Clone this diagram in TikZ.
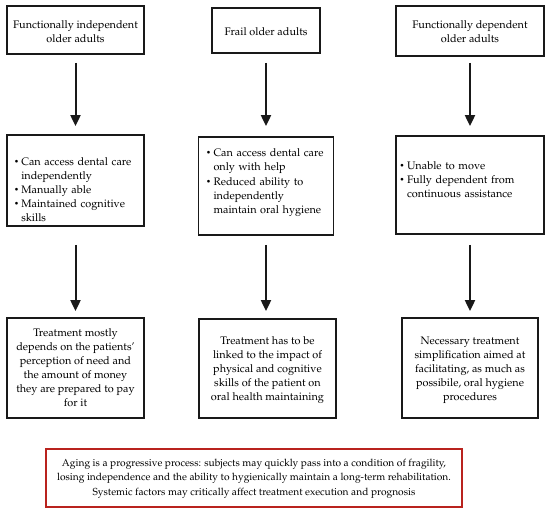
\documentclass[tikz,border=0pt]{standalone}
\usepackage[T1]{fontenc}
\usepackage{mathpazo}
\usetikzlibrary{arrows.meta}
\definecolor{noteRed}{RGB}{185,35,30}
\definecolor{boxLine}{RGB}{25,25,25}
\newcommand{\bitem}[1]{\par\hangindent=7.3pt\hangafter=1\noindent\makebox[7.3pt][l]{\raisebox{0.15ex}{\scalebox{0.75}{\textbullet}}}#1\par}
\begin{document}
\begin{tikzpicture}[x=1pt,y=-1pt,
  box/.style={draw=boxLine, line width=1.8pt, rectangle, inner sep=0pt},
  notebox/.style={draw=noteRed, line width=2.5pt, rectangle, inner sep=0pt},
  txt/.style={inner sep=0pt, font=\fontsize{10.9}{14}\selectfont, align=center, text=black},
  ntxt/.style={inner sep=0pt, font=\fontsize{10.2}{14.5}\selectfont, align=center, text=black},
  btxt/.style={inner sep=0pt, font=\fontsize{10.9}{14.2}\selectfont, text width=#1, anchor=west, text=black},
  arr/.style={draw=boxLine, line width=2pt, -{Triangle[width=10pt,length=11pt]}}]
\useasboundingbox (0,0) rectangle (550,511);
% boxes
\node[box, minimum width=137pt, minimum height=48pt] (top1) at (75.5,30) {};
\node[box, minimum width=108pt, minimum height=45pt] (top2) at (266,30.5) {};
\node[box, minimum width=148pt, minimum height=50pt] (top3) at (470,31) {};
\node[box, minimum width=137pt, minimum height=91pt] (mid1) at (75.5,180.5) {};
\node[box, minimum width=135pt, minimum height=98pt] (mid2) at (266,186) {};
\node[box, minimum width=148pt, minimum height=98pt] (mid3) at (470,185) {};
\node[box, minimum width=137pt, minimum height=100pt] (bot1) at (75.5,368) {};
\node[box, minimum width=137pt, minimum height=99pt] (bot2) at (267.5,368.5) {};
\node[box, minimum width=136pt, minimum height=100pt] (bot3) at (470,368) {};
\node[notebox, minimum width=416pt, minimum height=58pt] (note) at (254,478) {};
% texts
\node[txt] (top1t) at (75.5,32) {Functionally independent\\older adults};
\node[txt] (top2t) at (266,32) {Frail older adults};
\node[txt] (top3t) at (470,32) {Functionally dependent\\older adults};
\node[btxt=128pt] (mid1t) at (13.8,186.5) {\raggedright\bitem{Can access dental care\newline independently}\bitem{Manually able}\bitem{Maintained cognitive\newline skills}};
\node[btxt=128pt] (mid2t) at (206,179.5) {\raggedright\bitem{Can access dental care\newline only with help}\bitem{Reduced ability to\newline independently\newline maintain oral hygiene}};
\node[btxt=140pt] (mid3t) at (399.5,176.5) {\raggedright\bitem{Unable to move}\bitem{Fully dependent from\newline continuous assistance}};
\node[txt] (bot1t) at (75.5,367.5) {Treatment mostly\\depends on the patients'\\perception of need and\\the amount of money\\they are prepared to pay\\for it};
\node[txt] (bot2t) at (267.5,370) {Treatment has to be\\linked to the impact of\\physical and cognitive\\skills of the patient on\\oral health maintaining};
\node[txt] (bot3t) at (470,370.5) {Necessary treatment\\simplification aimed at\\facilitating, as much as\\possibile, oral hygiene\\procedures};
\node[ntxt] (notet) at (254,478.5) {Aging is a progressive process: subjects may quickly pass into a condition of fragility,\\losing independence and the ability to hygienically maintain a long-term rehabilitation.\\Systemic factors may critically affect treatment execution and prognosis};
% arrows
\draw[arr, shorten <=8pt, shorten >=8pt] (top1) -- (mid1);
\draw[arr, shorten <=9pt, shorten >=10pt] (top2) -- (mid2);
\draw[arr, shorten <=6pt, shorten >=9pt] (top3) -- (mid3);
\draw[arr, shorten <=18pt, shorten >=6pt] (mid1) -- (bot1);
\draw[arr, shorten <=9pt, shorten >=7pt] (mid2.south) -- (mid2.south |- bot2.north);
\draw[arr, shorten <=10pt, shorten >=6pt] (mid3) -- (bot3);
\end{tikzpicture}
\end{document}
